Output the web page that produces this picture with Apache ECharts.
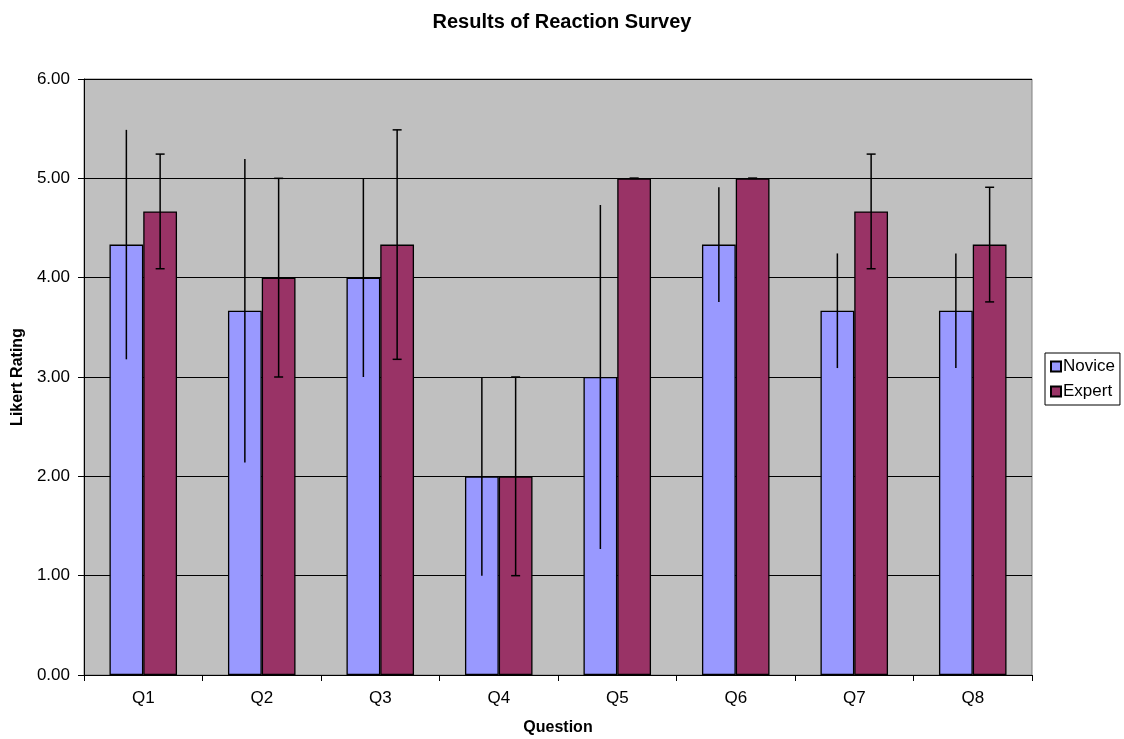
<!DOCTYPE html>
<html>
<head>
<meta charset="utf-8">
<script src="https://cdn.jsdelivr.net/npm/echarts@6/dist/echarts.min.js"></script>
<style>
html,body{margin:0;padding:0;background:#fff;}
#chart{width:1124px;height:739px;}
</style>
</head>
<body>
<div id="chart"></div>
<script>
const categories = ['Q1','Q2','Q3','Q4','Q5','Q6','Q7','Q8'];
const novice = [4.333, 3.667, 4.000, 2.000, 3.000, 4.333, 3.667, 3.667];
const expert = [4.667, 4.000, 4.333, 2.000, 5.000, 5.000, 4.667, 4.333];
const noviceErr = [1.155, 1.528, 1.000, 1.000, 1.732, 0.577, 0.577, 0.577];
const expertErr = [0.577, 1.000, 1.155, 1.000, 0.000, 0.000, 0.577, 0.577];
const yTicks = [0, 1, 2, 3, 4, 5, 6];

const FONT = "'Liberation Sans', Arial, sans-serif";
const CAT_GAP = 0.43;

function errData(vals, errs) {
  return vals.map((v, i) => [i, v - errs[i], v + errs[i]]);
}

function makeErrRender(side, caps) {
  return function (params, api) {
    const band = api.size([1, 0])[0];
    const barW = band * (1 - CAT_GAP) / 2;
    const c = api.coord([api.value(0), api.value(1)]);
    const x = c[0] + side * barW / 2;
    const yLow = c[1];
    const yHigh = api.coord([api.value(0), api.value(2)])[1];
    const style = { stroke: '#000', lineWidth: 1.5 };
    const children = [
      { type: 'line', shape: { x1: x, y1: yLow, x2: x, y2: yHigh }, style: style }
    ];
    if (caps) {
      const h = 4.5;
      children.push({ type: 'line', shape: { x1: x - h, y1: yLow, x2: x + h, y2: yLow }, style: style });
      children.push({ type: 'line', shape: { x1: x - h, y1: yHigh, x2: x + h, y2: yHigh }, style: style });
    }
    return { type: 'group', children: children };
  };
}

const chart = echarts.init(document.getElementById('chart'), null, { renderer: 'canvas' });
chart.setOption({
  animation: false,
  backgroundColor: '#ffffff',
  textStyle: { fontFamily: FONT, color: '#000' },
  title: {
    text: 'Results of Reaction Survey',
    left: 'center',
    top: 7,
    textStyle: { fontFamily: FONT, fontSize: 20, fontWeight: 'bold', color: '#000' }
  },
  legend: {
    data: ['Novice', 'Expert'],
    orient: 'vertical',
    left: 1045,
    top: 353,
    padding: [5, 5, 5, 5],
    itemWidth: 10,
    itemHeight: 10,
    itemGap: 8,
    icon: 'rect',
    borderColor: '#000',
    borderWidth: 1,
    backgroundColor: '#fff',
    textStyle: { fontFamily: FONT, fontSize: 17, color: '#000', padding: [0, 0, 0, -3] }
  },
  grid: {
    left: 84, right: 92, top: 79, bottom: 64,
    containLabel: false,
    outerBoundsMode: 'none',
    show: true,
    backgroundColor: '#C0C0C0',
    borderColor: '#808080',
    borderWidth: 1
  },
  xAxis: {
    type: 'category',
    data: categories,
    name: 'Question',
    nameLocation: 'middle',
    nameGap: 45,
    nameTextStyle: { fontFamily: FONT, fontSize: 16, fontWeight: 'bold', color: '#000' },
    axisLine: { lineStyle: { color: '#000', width: 1 } },
    axisTick: { show: true, length: 6, lineStyle: { color: '#000' } },
    axisLabel: { fontFamily: FONT, fontSize: 17, color: '#000', margin: 15 },
    splitLine: { show: false }
  },
  yAxis: {
    type: 'value',
    min: yTicks[0],
    max: yTicks[yTicks.length - 1],
    interval: 1,
    name: 'Likert Rating',
    nameLocation: 'middle',
    nameRotate: 90,
    nameGap: 55,
    nameTextStyle: { fontFamily: FONT, fontSize: 16, fontWeight: 'bold', color: '#000' },
    axisLine: { show: true, lineStyle: { color: '#000', width: 1 } },
    axisTick: { show: true, length: 6, lineStyle: { color: '#000' } },
    axisLabel: { fontFamily: FONT, fontSize: 17, color: '#000', margin: 14,
      formatter: v => v.toFixed(2) },
    splitLine: { show: true, lineStyle: { color: '#000', width: 1 } }
  },
  series: [
    {
      name: 'Novice', type: 'bar', data: novice,
      barGap: '0%', barCategoryGap: (CAT_GAP * 100) + '%',
      itemStyle: { color: '#9999FF', borderColor: '#000', borderWidth: 1.3 }
    },
    {
      name: 'Expert', type: 'bar', data: expert,
      itemStyle: { color: '#993366', borderColor: '#000', borderWidth: 1.3 }
    },
    {
      name: 'NoviceErr', type: 'custom', z: 10,
      renderItem: makeErrRender(-1, false),
      data: errData(novice, noviceErr),
      encode: { x: 0, y: [1, 2] }
    },
    {
      name: 'ExpertErr', type: 'custom', z: 10,
      renderItem: makeErrRender(1, true),
      data: errData(expert, expertErr),
      encode: { x: 0, y: [1, 2] }
    }
  ]
});
</script>
</body>
</html>
